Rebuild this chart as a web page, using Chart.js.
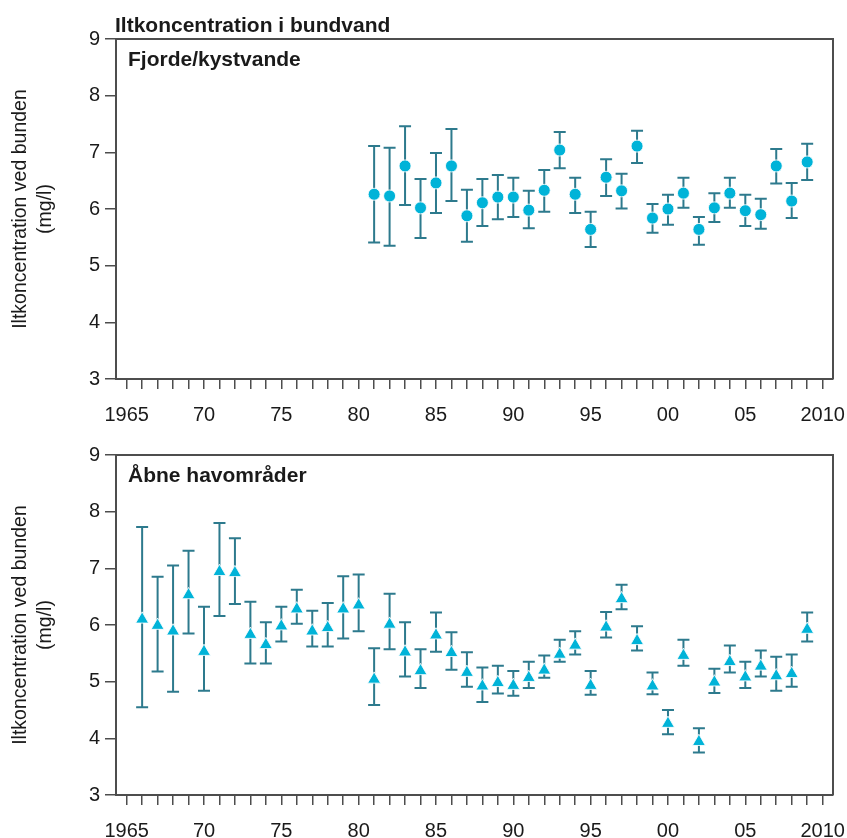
<!DOCTYPE html>
<html lang="da">
<head>
<meta charset="utf-8">
<title>Iltkoncentration i bundvand</title>
<script src="https://cdn.jsdelivr.net/npm/chart.js@4.4.1/dist/chart.umd.min.js"></script>
<style>
  html, body { margin: 0; padding: 0; background: #fff; }
  body { width: 847px; height: 838px; position: relative; overflow: hidden; }
  canvas { position: absolute; left: 0; }
  #fjordChart { top: 0; }
  #seaChart { top: 415px; }
</style>
</head>
<body>
<canvas id="fjordChart" width="847" height="440"></canvas>
<canvas id="seaChart" width="847" height="423"></canvas>
<script>
// Fjorde/kystvande: mean oxygen with lower/upper bounds (mg/l)
const fjordYears = [1981, 1982, 1983, 1984, 1985, 1986, 1987, 1988, 1989, 1990,
    1991, 1992, 1993, 1994, 1995, 1996, 1997, 1998, 1999, 2000,
    2001, 2002, 2003, 2004, 2005, 2006, 2007, 2008, 2009];
const fjordMean = [6.26, 6.23, 6.76, 6.02, 6.46, 6.76, 5.88, 6.11, 6.21, 6.21,
    5.98, 6.33, 7.04, 6.26, 5.64, 6.56, 6.32, 7.11, 5.84, 6.00,
    6.28, 5.64, 6.02, 6.28, 5.97, 5.90, 6.76, 6.14, 6.83];
const fjordLow = [5.41, 5.35, 6.07, 5.49, 5.93, 6.14, 5.42, 5.70, 5.82, 5.86,
    5.66, 5.95, 6.72, 5.93, 5.33, 6.23, 6.01, 6.81, 5.58, 5.72,
    6.02, 5.37, 5.77, 6.02, 5.70, 5.65, 6.45, 5.84, 6.51];
const fjordHigh = [7.11, 7.08, 7.46, 6.53, 6.99, 7.41, 6.34, 6.53, 6.60, 6.55,
    6.32, 6.69, 7.36, 6.55, 5.95, 6.88, 6.62, 7.38, 6.09, 6.25,
    6.55, 5.86, 6.28, 6.55, 6.25, 6.18, 7.06, 6.46, 7.15];

// Åbne havområder
const seaYears = [1966, 1967, 1968, 1969, 1970, 1971, 1972, 1973, 1974, 1975,
    1976, 1977, 1978, 1979, 1980, 1981, 1982, 1983, 1984, 1985,
    1986, 1987, 1988, 1989, 1990, 1991, 1992, 1993, 1994, 1995,
    1996, 1997, 1998, 1999, 2000, 2001, 2002, 2003, 2004, 2005,
    2006, 2007, 2008, 2009];
const seaMean = [6.10, 5.99, 5.89, 6.53, 5.53, 6.94, 6.92, 5.83, 5.65, 5.98,
    6.28, 5.89, 5.95, 6.28, 6.35, 5.04, 6.01, 5.52, 5.19, 5.82,
    5.51, 5.16, 4.92, 4.98, 4.93, 5.07, 5.20, 5.48, 5.64, 4.93,
    5.96, 6.46, 5.72, 4.92, 4.26, 5.46, 3.94, 4.99, 5.35, 5.08,
    5.27, 5.10, 5.14, 5.92];
const seaLow = [4.55, 5.18, 4.82, 5.85, 4.84, 6.16, 6.37, 5.32, 5.32, 5.71,
    6.02, 5.62, 5.62, 5.76, 5.89, 4.59, 5.57, 5.09, 4.89, 5.53,
    5.21, 4.91, 4.64, 4.79, 4.75, 4.89, 5.07, 5.35, 5.48, 4.77,
    5.78, 6.28, 5.55, 4.78, 4.07, 5.28, 3.75, 4.80, 5.16, 4.89,
    5.09, 4.84, 4.91, 5.71];
const seaHigh = [7.73, 6.85, 7.05, 7.31, 6.32, 7.80, 7.53, 6.41, 6.05, 6.32,
    6.62, 6.25, 6.39, 6.86, 6.89, 5.59, 6.55, 6.05, 5.57, 6.22,
    5.87, 5.52, 5.25, 5.28, 5.19, 5.35, 5.46, 5.74, 5.89, 5.19,
    6.23, 6.71, 5.98, 5.16, 4.50, 5.74, 4.18, 5.23, 5.64, 5.35,
    5.55, 5.44, 5.48, 6.22];

// x axis: a tick every year, a label every fifth
const labelYears = [1965, 1970, 1975, 1980, 1985, 1990, 1995, 2000, 2005, 2010];
const labelTexts = ['1965', '70', '75', '80', '85', '90', '95', '00', '05', '2010'];
const yTicks = [3, 4, 5, 6, 7, 8, 9];

const FONT = "'Liberation Sans', Arial, Helvetica, sans-serif";
const AXIS_COLOR = '#4d4d4d';
const TEXT_COLOR = '#1a1a1a';
const MARKER_COLOR = '#00b3d8';
const BAR_COLOR = '#2d7a8d';

// whiskers with caps, drawn under the markers
const errorBarPlugin = {
    id: 'errorBars',
    beforeDatasetsDraw(chart) {
        const { ctx, scales: { x, y } } = chart;
        const eb = chart.options.plugins.errorBars;
        ctx.save();
        ctx.strokeStyle = BAR_COLOR;
        ctx.lineWidth = 2;
        eb.years.forEach((yr, i) => {
            const px = x.getPixelForValue(yr);
            const lo = y.getPixelForValue(eb.low[i]);
            const hi = y.getPixelForValue(eb.high[i]);
            ctx.beginPath();
            ctx.moveTo(px, lo);
            ctx.lineTo(px, hi);
            ctx.moveTo(px - 6, hi);
            ctx.lineTo(px + 6, hi);
            ctx.moveTo(px - 6, lo);
            ctx.lineTo(px + 6, lo);
            ctx.stroke();
        });
        ctx.restore();
    }
};

// top/right frame lines plus the heading and panel name
const framePlugin = {
    id: 'frame',
    afterDraw(chart) {
        const { ctx, chartArea: a } = chart;
        const fr = chart.options.plugins.frame;
        ctx.save();
        ctx.strokeStyle = AXIS_COLOR;
        ctx.lineWidth = 2;
        ctx.beginPath();
        ctx.moveTo(a.left, a.top);
        ctx.lineTo(a.right, a.top);
        ctx.lineTo(a.right, a.bottom);
        ctx.stroke();

        ctx.fillStyle = TEXT_COLOR;
        ctx.font = 'bold 21px ' + FONT;
        ctx.textAlign = 'left';
        ctx.textBaseline = 'alphabetic';
        if (fr.heading) ctx.fillText(fr.heading, 115, a.top - 7);
        ctx.fillText(fr.panel, a.left + 12, a.top + 27);
        ctx.restore();
    }
};

function buildChart(canvasId, years, mean, low, high, pointStyle, radius, opts) {
    const ctx = document.getElementById(canvasId).getContext('2d');
    return new Chart(ctx, {
        type: 'scatter',
        data: {
            datasets: [{
                data: years.map((yr, i) => ({ x: yr, y: mean[i] })),
                pointStyle: pointStyle,
                pointRadius: radius,
                pointBackgroundColor: MARKER_COLOR,
                pointBorderColor: 'rgba(255,255,255,0.85)',
                pointBorderWidth: 1,
                showLine: false
            }]
        },
        options: {
            responsive: false,
            animation: false,
            layout: { padding: { top: opts.top, right: 14, left: 0, bottom: 0 } },
            plugins: {
                legend: { display: false },
                tooltip: { enabled: false },
                errorBars: { years: years, low: low, high: high },
                frame: { heading: opts.heading, panel: opts.panel }
            },
            scales: {
                x: {
                    type: 'linear',
                    min: 1964.31,
                    max: 2010.67,
                    afterBuildTicks: scale => {
                        const ticks = [];
                        for (let yr = labelYears[0]; yr <= labelYears[labelYears.length - 1]; yr++) {
                            ticks.push({ value: yr });
                        }
                        scale.ticks = ticks;
                    },
                    afterFit: scale => {
                        scale.height = opts.xHeight;
                        scale.paddingLeft = 0;
                        scale.paddingRight = 0;
                    },
                    grid: {
                        drawOnChartArea: false,
                        drawTicks: true,
                        tickLength: 10,
                        color: AXIS_COLOR,
                        lineWidth: 1.5
                    },
                    border: { display: true, color: AXIS_COLOR, width: 2 },
                    ticks: {
                        autoSkip: false,
                        maxRotation: 0,
                        minRotation: 0,
                        padding: 14,
                        color: TEXT_COLOR,
                        font: { family: FONT, size: 20 },
                        callback: value => {
                            const k = labelYears.indexOf(value);
                            return k >= 0 ? labelTexts[k] : '';
                        }
                    }
                },
                y: {
                    min: yTicks[0],
                    max: yTicks[yTicks.length - 1],
                    afterBuildTicks: scale => { scale.ticks = yTicks.map(v => ({ value: v })); },
                    afterFit: scale => {
                        scale.width = 116;
                        scale.paddingTop = 0;
                        scale.paddingBottom = 0;
                    },
                    grid: {
                        drawOnChartArea: false,
                        drawTicks: true,
                        tickLength: 11,
                        color: AXIS_COLOR,
                        lineWidth: 1.5
                    },
                    border: { display: true, color: AXIS_COLOR, width: 2 },
                    ticks: {
                        padding: 5,
                        color: TEXT_COLOR,
                        font: { family: FONT, size: 20 }
                    },
                    title: {
                        display: true,
                        text: ['Iltkoncentration ved bunden', '(mg/l)'],
                        color: TEXT_COLOR,
                        font: { family: FONT, size: 19.5, lineHeight: 1.28 },
                        padding: { top: 8, bottom: 0 }
                    }
                }
            }
        },
        plugins: [errorBarPlugin, framePlugin]
    });
}

const fjordChart = buildChart('fjordChart', fjordYears, fjordMean, fjordLow, fjordHigh, 'circle', 6, {
    top: 39, xHeight: 61,
    heading: 'Iltkoncentration i bundvand',
    panel: 'Fjorde/kystvande'
});

const seaChart = buildChart('seaChart', seaYears, seaMean, seaLow, seaHigh, 'triangle', 7.5, {
    top: 40, xHeight: 43,
    heading: null,
    panel: 'Åbne havområder'
});
</script>
</body>
</html>
